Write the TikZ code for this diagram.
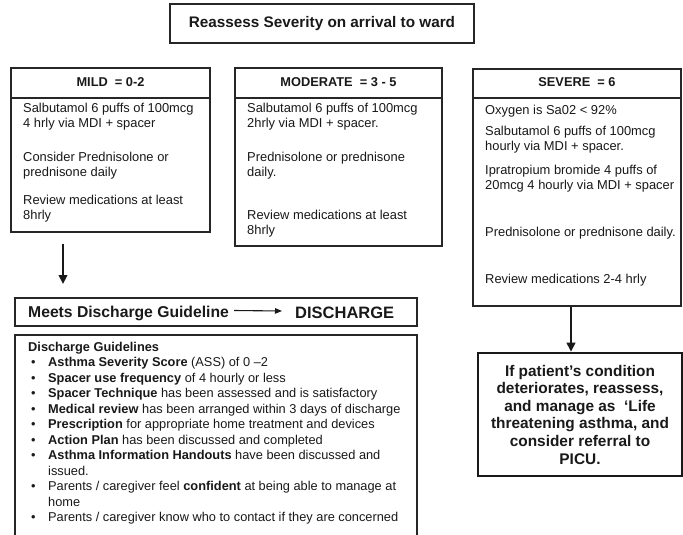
\documentclass[tikz,border=0pt]{standalone}
\usepackage{fontspec}
\setmainfont{Liberation Sans}
\usetikzlibrary{arrows.meta,calc}
\begin{document}
\begin{tikzpicture}[x=1pt,y=-1pt,
  box/.style={draw=black!85, line width=1.1pt},
  bodyt/.style={anchor=north west, inner sep=0pt, align=left, text=black!90,
    font=\fontsize{12.9}{15}\selectfont},
  headt/.style={anchor=base, inner sep=0pt, text=black!90,
    font=\bfseries\fontsize{12.8}{15}\selectfont},
  arr/.style={draw=black!90, line width=2.6pt, -{Triangle[length=9pt,width=8.5pt]}},
  thinarr/.style={draw=black!90, line width=1.1pt, -{Triangle[length=7pt,width=5.5pt]}},
  ]
\useasboundingbox (0,0) rectangle (683,535);
\fill[white] (0,0) rectangle (683,535);

% title
\node[box, minimum width=304pt, minimum height=39pt, inner sep=0pt, text=black!90,
  font=\bfseries\fontsize{15.3}{18}\selectfont] (title) at (322,23.5)
  {Reassess Severity on arrival to ward};

% MILD
\node[box, minimum width=199pt, minimum height=164pt] (mild) at (110.5,150) {};
\draw[box] (mild.west |- 0,98) -- (mild.east |- 0,98);
\node[headt] (mildh) at (110.5,87) {MILD\ \ = 0-2};
\node[bodyt] (m1) at (23,102.7) {Salbutamol 6 puffs of 100mcg\\4 hrly via MDI + spacer};
\node[bodyt] (m2) at (23,151.7) {Consider Prednisolone or\\prednisone daily};
\node[bodyt] (m3) at (23,194.7) {Review medications at least\\8hrly};

% MODERATE
\node[box, minimum width=207pt, minimum height=178pt] (mod) at (338.5,157) {};
\draw[box] (mod.west |- 0,98) -- (mod.east |- 0,98);
\node[headt] (modh) at (338.5,87) {MODERATE\ \ = 3 - 5};
\node[bodyt] (d1) at (247,102.7) {Salbutamol 6 puffs of 100mcg\\2hrly via MDI + spacer.};
\node[bodyt] (d2) at (247,151.7) {Prednisolone or prednisone\\daily.};
\node[bodyt] (d3) at (247,209.7) {Review medications at least\\8hrly};

% SEVERE
\node[box, minimum width=208pt, minimum height=237pt] (sev) at (577,187.5) {};
\draw[box] (sev.west |- 0,98) -- (sev.east |- 0,98);
\node[headt] (sevh) at (577,87) {SEVERE\ \ = 6};
\node[bodyt] (s1) at (485,104.7) {Oxygen is Sa02 < 92\%};
\node[bodyt] (s2) at (485,125.7) {Salbutamol 6 puffs of 100mcg\\hourly via MDI + spacer.};
\node[bodyt] (s3) at (485,164.7) {Ipratropium bromide 4 puffs of\\20mcg 4 hourly via MDI + spacer};
\node[bodyt] (s4) at (485,226.7) {Prednisolone or prednisone daily.};
\node[bodyt] (s5) at (485,273.7) {Review medications 2-4 hrly};

% PICU box
\node[draw=black!90, line width=2.6pt, minimum width=204pt, minimum height=123pt,
  inner sep=0pt, align=center, text=black!90,
  font=\bfseries\fontsize{15.4}{17.6}\selectfont] (picu) at (580,414.5)
  {If patient’s condition\\deteriorates, reassess,\\and manage as\ \ ‘Life\\threatening asthma, and\\consider referral to\\PICU.};

\coordinate (sx) at (571,0);
\draw[arr] (sev.south -| sx) -- (picu.north -| sx);

% arrow from MILD
\coordinate (a1s) at (63,244);
\coordinate (a1e) at (63,284);
\draw[arr] (a1s) -- (a1e);

% Meets box
\node[box, minimum width=402pt, minimum height=28pt] (meets) at (216,312) {};
\node[anchor=base west, inner sep=0pt, text=black!90,
  font=\bfseries\fontsize{15.7}{18}\selectfont] (mt) at (28,317.5) {Meets Discharge Guideline};
\node[anchor=base west, inner sep=0pt, text=black!90,
  font=\bfseries\fontsize{16.5}{18}\selectfont] (dt) at (295,318) {DISCHARGE};
\draw[thinarr] ($(mt.base east)+(5,-7)$) -- ($(dt.base west)+(-13,-7)$);

% Guidelines box (open at the bottom, cut by the page)
\draw[draw=black!85, line width=1.3pt] (15,540) -- (15,335) -- (417,335) -- (417,540);
\newcommand{\blt}{\makebox[20pt][l]{\hspace{3pt}\textbullet}}
\node[anchor=north west, inner sep=0pt, align=left, text=black!90,
  font=\fontsize{12.8}{15.5}\selectfont] (guide) at (28,341.8)
  {\textbf{Discharge Guidelines}\\
   \blt\textbf{Asthma Severity Score} (ASS) of 0 –2\\
   \blt\textbf{Spacer use frequency} of 4 hourly or less\\
   \blt\textbf{Spacer Technique} has been assessed and is satisfactory\\
   \blt\textbf{Medical review} has been arranged within 3 days of discharge\\
   \blt\textbf{Prescription} for appropriate home treatment and devices\\
   \blt\textbf{Action Plan} has been discussed and completed\\
   \blt\textbf{Asthma Information Handouts} have been discussed and\\
   \hspace*{20pt}issued.\\
   \blt Parents / caregiver feel \textbf{confident} at being able to manage at\\
   \hspace*{20pt}home\\
   \blt Parents / caregiver know who to contact if they are concerned};
\end{tikzpicture}
\end{document}
